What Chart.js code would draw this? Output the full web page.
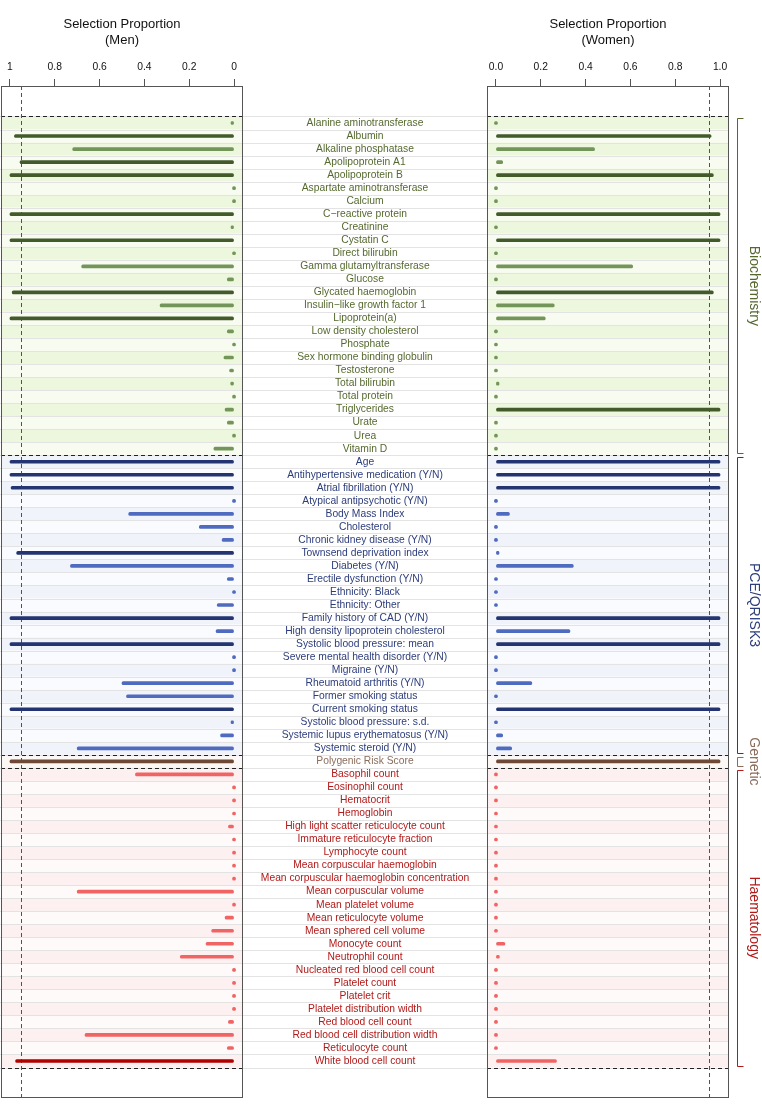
<!DOCTYPE html>
<html>
<head>
<meta charset="utf-8">
<script src="https://cdn.jsdelivr.net/npm/chart.js@4.4.0/dist/chart.umd.min.js"></script>
<style>
  html, body { margin: 0; padding: 0; background: #fff; }
  #wrap { position: relative; width: 762px; height: 1111px; }
  #men { position: absolute; left: 0; top: 0; }
  #women { position: absolute; left: 480px; top: 0; }
</style>
</head>
<body>
<div id="wrap">
  <canvas id="men" width="487" height="1111"></canvas>
  <canvas id="women" width="282" height="1111"></canvas>
</div>
<script>
// variable names per group
const bioNames = ['Alanine aminotransferase', 'Albumin', 'Alkaline phosphatase', 'Apolipoprotein A1',
  'Apolipoprotein B', 'Aspartate aminotransferase', 'Calcium', 'C\u2212reactive protein', 'Creatinine',
  'Cystatin C', 'Direct bilirubin', 'Gamma glutamyltransferase', 'Glucose', 'Glycated haemoglobin',
  'Insulin\u2212like growth factor 1', 'Lipoprotein(a)', 'Low density cholesterol', 'Phosphate',
  'Sex hormone binding globulin', 'Testosterone', 'Total bilirubin', 'Total protein', 'Triglycerides',
  'Urate', 'Urea', 'Vitamin D'];
const pceNames = ['Age', 'Antihypertensive medication (Y/N)', 'Atrial fibrillation (Y/N)',
  'Atypical antipsychotic (Y/N)', 'Body Mass Index', 'Cholesterol', 'Chronic kidney disease (Y/N)',
  'Townsend deprivation index', 'Diabetes (Y/N)', 'Erectile dysfunction (Y/N)', 'Ethnicity: Black',
  'Ethnicity: Other', 'Family history of CAD (Y/N)', 'High density lipoprotein cholesterol',
  'Systolic blood pressure: mean', 'Severe mental health disorder (Y/N)', 'Migraine (Y/N)',
  'Rheumatoid arthritis (Y/N)', 'Former smoking status', 'Current smoking status',
  'Systolic blood pressure: s.d.', 'Systemic lupus erythematosus (Y/N)', 'Systemic steroid (Y/N)'];
const geneticNames = ['Polygenic Risk Score'];
const haemNames = ['Basophil count', 'Eosinophil count', 'Hematocrit', 'Hemoglobin',
  'High light scatter reticulocyte count', 'Immature reticulocyte fraction', 'Lymphocyte count',
  'Mean corpuscular haemoglobin', 'Mean corpuscular haemoglobin concentration', 'Mean corpuscular volume',
  'Mean platelet volume', 'Mean reticulocyte volume', 'Mean sphered cell volume', 'Monocyte count',
  'Neutrophil count', 'Nucleated red blood cell count', 'Platelet count', 'Platelet crit',
  'Platelet distribution width', 'Red blood cell count', 'Red blood cell distribution width',
  'Reticulocyte count', 'White blood cell count'];
const groupNames = ['Biochemistry', 'PCE/QRISK3', 'Genetic', 'Haematology'];

// selection proportions
const menBio = [0.01, 0.98, 0.72, 0.955, 1.0, 0, 0, 1.0, 0.01, 1.0, 0, 0.68, 0.03, 0.99, 0.33, 1.0,
  0.03, 0, 0.045, 0.02, 0.015, 0, 0.04, 0.03, 0, 0.09];
const womenBio = [0, 0.96, 0.44, 0.03, 0.97, 0, 0, 1.0, 0, 1.0, 0, 0.61, 0, 0.97, 0.26, 0.22,
  0, 0, 0, 0, 0.01, 0, 1.0, 0, 0, 0];
const menPce = [1.0, 1.0, 0.995, 0, 0.47, 0.155, 0.053, 0.97, 0.73, 0.03, 0, 0.075, 1.0, 0.08, 1.0,
  0, 0, 0.5, 0.48, 1.0, 0.01, 0.06, 0.70];
const womenPce = [1.0, 1.0, 1.0, 0, 0.06, 0, 0, 0.01, 0.345, 0, 0, 0, 1.0, 0.33, 1.0,
  0, 0, 0.16, 0, 1.0, 0, 0.03, 0.07];
const menGenetic = [1.0];
const womenGenetic = [1.0];
const menHaem = [0.44, 0, 0, 0, 0.025, 0, 0, 0, 0, 0.70, 0, 0.04, 0.10, 0.125, 0.24, 0, 0, 0, 0,
  0.025, 0.665, 0.03, 0.975];
const womenHaem = [0, 0, 0, 0, 0, 0, 0, 0, 0, 0, 0, 0, 0, 0.04, 0.015, 0, 0, 0, 0,
  0, 0, 0, 0.27];

const tickValues = [0, 0.2, 0.4, 0.6, 0.8, 1];
const menTickLabels = ['0', '0.2', '0.4', '0.6', '0.8', '1'];
const womenTickLabels = ['0.0', '0.2', '0.4', '0.6', '0.8', '1.0'];
const threshold = 0.95;

const groups = [bioNames, pceNames, geneticNames, haemNames];
const names = groups.flat();
const groupOf = groups.flatMap((g, gi) => g.map(() => gi));
const menValues = [menBio, menPce, menGenetic, menHaem].flat();
const womenValues = [womenBio, womenPce, womenGenetic, womenHaem].flat();
const nRows = names.length;
const yPad = 2.84;

const styles = [
  { dark: '#435a2a', light: '#74955a', text: '#55692f', stripe: ['#edf7dd', '#f8fcf0'] },
  { dark: '#233470', light: '#4f6bc0', text: '#2c3d7b', stripe: ['#f1f3fb', '#fafbfe'] },
  { dark: '#6e4a36', light: '#a07a63', text: '#8a6d5c', stripe: ['#f6f1ee', '#fbf8f6'] },
  { dark: '#b00000', light: '#f06464', text: '#b21919', stripe: ['#fdf0f0', '#fffafa'] }
];

const fontFamily = "'Liberation Sans', Arial, sans-serif";
const labelSize = 10.3;
Chart.defaults.font.family = fontFamily;

// centre the middle labels in the 244px column
const mctx = document.createElement('canvas').getContext('2d');
mctx.font = labelSize + 'px ' + fontFamily;
const widest = Math.max(...names.map(n => mctx.measureText(n).width));
const labelPad = 122 - widest / 2;

function panelPlugin(opts) {
  return {
    id: 'panel',
    beforeDraw(chart) {
      const { ctx, chartArea: a, scales: { x, y } } = chart;
      ctx.save();
      names.forEach((_, i) => {
        const y0 = y.getPixelForValue(i - 0.5), y1 = y.getPixelForValue(i + 0.5);
        ctx.fillStyle = styles[groupOf[i]].stripe[i % 2];
        ctx.fillRect(a.left, y0, a.right - a.left, y1 - y0);
      });
      ctx.strokeStyle = '#e3e3e3';
      ctx.lineWidth = 1;
      for (let i = 0; i <= nRows; i++) {
        const yy = Math.round(y.getPixelForValue(i - 0.5)) + 0.5;
        ctx.beginPath();
        ctx.moveTo(opts.lineLeft, yy);
        ctx.lineTo(opts.lineRight || a.right, yy);
        ctx.stroke();
      }
      const tx = Math.round(x.getPixelForValue(threshold)) + 0.5;
      ctx.strokeStyle = '#b8262b';
      ctx.setLineDash([4, 3]);
      ctx.beginPath();
      ctx.moveTo(tx, a.top);
      ctx.lineTo(tx, a.bottom);
      ctx.stroke();
      ctx.restore();
    },
    afterDatasetsDraw(chart) {
      const { ctx, chartArea: a, scales: { y } } = chart;
      ctx.save();
      const bounds = [-0.5];
      let s = 0;
      groups.forEach(g => { s += g.length; bounds.push(s - 0.5); });
      ctx.strokeStyle = '#222';
      ctx.lineWidth = 1;
      ctx.setLineDash([4, 3]);
      bounds.forEach(b => {
        const yy = Math.round(y.getPixelForValue(b)) + 0.5;
        ctx.beginPath();
        ctx.moveTo(a.left, yy);
        ctx.lineTo(a.right, yy);
        ctx.stroke();
      });
      ctx.setLineDash([]);
      ctx.strokeStyle = '#555';
      ctx.strokeRect(a.left + 0.5, a.top + 0.5, a.right - a.left - 1, a.bottom - a.top - 1);
      ctx.restore();
    },
    afterDraw(chart) {
      if (!opts.brackets) return;
      const { ctx, chartArea: a, scales: { y } } = chart;
      ctx.save();
      let s = 0;
      groups.forEach((g, gi) => {
        const top = y.getPixelForValue(s - 0.5) + 2;
        const bot = y.getPixelForValue(s + g.length - 0.5) - 2;
        s += g.length;
        const bx = a.right + 8.5;
        ctx.strokeStyle = styles[gi].text;
        ctx.lineWidth = 1;
        ctx.beginPath();
        ctx.moveTo(bx + 6, Math.round(top) + 0.5);
        ctx.lineTo(bx, Math.round(top) + 0.5);
        ctx.lineTo(bx, Math.round(bot) + 0.5);
        ctx.lineTo(bx + 6, Math.round(bot) + 0.5);
        ctx.stroke();
        ctx.save();
        ctx.translate(a.right + 25, (top + bot) / 2);
        ctx.rotate(Math.PI / 2);
        ctx.fillStyle = styles[gi].text;
        ctx.font = '14px ' + fontFamily;
        ctx.textAlign = 'center';
        ctx.textBaseline = 'middle';
        ctx.fillText(groupNames[gi], 0, 0);
        ctx.restore();
      });
      ctx.restore();
    }
  };
}

function makeChart(id, values, sex, tickLabels, reverse, showLabels, padding, plugin) {
  return new Chart(document.getElementById(id), {
    type: 'bar',
    data: {
      datasets: [{
        data: values.map((v, i) => ({ x: v, y: i })),
        backgroundColor: c => {
          const st = styles[groupOf[c.dataIndex]];
          return c.raw.x >= threshold ? st.dark : st.light;
        },
        barThickness: 3,
        borderRadius: 1.5,
        borderSkipped: false,
        borderWidth: 0,
        minBarLength: 3
      }]
    },
    options: {
      indexAxis: 'y',
      responsive: false,
      animation: false,
      events: [],
      layout: { padding: padding },
      plugins: { legend: { display: false }, tooltip: { enabled: false } },
      scales: {
        x: {
          type: 'linear',
          position: 'top',
          min: -0.04,
          max: 1.04,
          reverse: reverse,
          afterBuildTicks: s => { s.ticks = tickValues.map(v => ({ value: v })); },
          afterFit: s => { s.height = 86; s.paddingLeft = 0; s.paddingRight = 0; },
          grid: { drawOnChartArea: false, drawTicks: true, tickLength: 7, color: '#555' },
          border: { display: false },
          ticks: {
            autoSkip: false, maxRotation: 0, padding: 6, color: '#111',
            font: { size: labelSize },
            callback: (v, i) => tickLabels[i]
          },
          title: {
            display: true,
            text: ['Selection Proportion', '(' + sex + ')'],
            color: '#111',
            font: { size: 13, lineHeight: '16px' },
            padding: { top: 16, bottom: 0 }
          }
        },
        y: {
          type: 'linear',
          display: showLabels,
          position: 'right',
          reverse: true,
          offset: false,
          min: -yPad,
          max: nRows - 1 + yPad,
          afterBuildTicks: s => { s.ticks = names.map((_, i) => ({ value: i })); },
          afterFit: s => {
            s.width = showLabels ? 244 : 0;
            s.paddingTop = 0;
            s.paddingBottom = 0;
          },
          grid: { display: false, drawTicks: false, offset: false },
          border: { display: false },
          ticks: {
            autoSkip: false,
            crossAlign: 'center',
            padding: labelPad,
            font: { size: labelSize },
            color: c => styles[groupOf[c.index]].text,
            callback: (v, i) => names[i]
          }
        }
      }
    },
    plugins: [plugin]
  });
}

makeChart('men', menValues, 'Men', menTickLabels, true, true,
  { left: 1, right: 0, top: 0, bottom: 13 }, panelPlugin({ lineLeft: 0, lineRight: 487 }));
makeChart('women', womenValues, 'Women', womenTickLabels, false, false,
  { left: 7, right: 33, top: 0, bottom: 13 }, panelPlugin({ lineLeft: 0, brackets: true }));
</script>
</body>
</html>
